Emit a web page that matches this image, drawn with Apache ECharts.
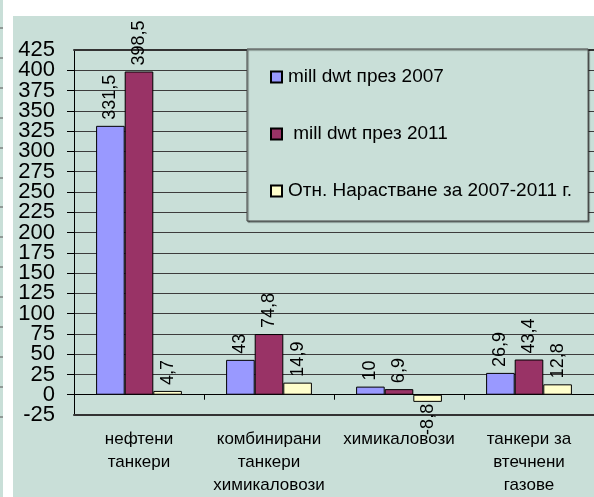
<!DOCTYPE html>
<html>
<head>
<meta charset="utf-8">
<script src="https://cdn.jsdelivr.net/npm/echarts@6/dist/echarts.min.js"></script>
<style>
html,body{margin:0;padding:0;background:#fff;}
#main{width:594px;height:497px;}
</style>
</head>
<body>
<div id="main"></div>
<script>
const categories = ['нефтени\nтанкери', 'комбинирани\nтанкери\nхимикаловози', 'химикаловози', 'танкери за\nвтечнени\nгазове'];
const seriesNames = ['mill dwt през 2007', ' mill dwt през 2011', 'Отн. Нарастване за 2007-2011 г.'];
const values2007 = [331.5, 43, 10, 26.9];
const values2011 = [398.5, 74.8, 6.9, 43.4];
const growth = [4.7, 14.9, -8.8, 12.8];
const yMin = -25, yMax = 425, yStep = 25;

const BG = '#c9dfd8';
const GRIDC = '#3c3c3c';
const FONT = '"Liberation Sans", Arial, sans-serif';
const colors = ['#9999ff', '#993366', '#ffffcc'];
const allValues = [values2007, values2011, growth];

function fmt(v) { return String(v).replace('.', ','); }

const chart = echarts.init(document.getElementById('main'), null, {renderer: 'canvas'});

const stripMarks = [];
for (let i = 0; i < 14; i++) {
  const y = Math.round(28 + i * 29.9);
  stripMarks.push({type: 'line', z: -90, shape: {x1: 0, y1: y, x2: 3, y2: y}, style: {stroke: '#555', lineWidth: 1}, silent: true});
}

const series = allValues.map((vals, si) => ({
  name: seriesNames[si],
  type: 'bar',
  xAxisIndex: 0,
  yAxisIndex: 0,
  barGap: '0%',
  barCategoryGap: '34%',
  itemStyle: {color: colors[si], borderColor: '#000', borderWidth: 1},
  data: vals.map(v => v < 0 ? {
    value: v,
    label: {position: 'bottom', align: 'right', distance: 2}
  } : v),
  label: {
    show: true,
    position: 'top',
    rotate: 90,
    align: 'left',
    verticalAlign: 'middle',
    distance: 6,
    fontSize: 18,
    fontFamily: FONT,
    color: '#000',
    formatter: p => fmt(p.value)
  }
}));

const yLabelBase = {margin: 19, fontSize: 22, fontFamily: FONT, color: '#000', hideOverlap: false};

chart.setOption({
  backgroundColor: '#fff',
  animation: false,
  color: colors,
  graphic: [
    {type: 'rect', z: -100, shape: {x: 13, y: 16, width: 581, height: 481}, style: {fill: BG}, silent: true},
    {type: 'rect', z: -100, shape: {x: 0, y: 0, width: 3, height: 497}, style: {fill: BG}, silent: true}
  ].concat(stripMarks),
  grid: {left: 74, top: 50, width: 530, bottom: 82, containLabel: false},
  legend: {
    orient: 'vertical',
    left: 247,
    top: 49,
    padding: [18, 16, 20, 23],
    itemGap: 37,
    itemWidth: 11,
    itemHeight: 11,
    icon: 'rect',
    backgroundColor: BG,
    borderColor: '#444',
    borderWidth: 1,
    shadowColor: 'rgba(0,0,0,0.55)',
    shadowOffsetX: 1,
    shadowOffsetY: 1,
    shadowBlur: 1,
    textStyle: {fontSize: 19, fontFamily: FONT, color: '#000', lineHeight: 20, padding: [0, 0, 0, 1]},
    data: seriesNames
  },
  xAxis: [
    {
      type: 'category',
      data: categories,
      position: 'bottom',
      axisLine: {show: true, onZero: true, lineStyle: {color: '#000', width: 1}},
      axisTick: {show: true, length: 5, lineStyle: {color: '#000'}},
      axisLabel: {show: false},
      splitLine: {show: false}
    },
    {
      type: 'category',
      data: categories,
      position: 'bottom',
      axisLine: {show: true, onZero: false, lineStyle: {color: '#333', width: 2}},
      axisTick: {show: false},
      axisLabel: {show: true, interval: 0, hideOverlap: false, margin: 13, fontSize: 17, lineHeight: 23, fontFamily: FONT, color: '#000'},
      splitLine: {show: false}
    },
    {
      type: 'category',
      data: categories,
      position: 'top',
      axisLine: {show: true, onZero: false, lineStyle: {color: '#333', width: 2}},
      axisTick: {show: false},
      axisLabel: {show: false},
      splitLine: {show: false}
    }
  ],
  yAxis: [
    {
      type: 'value',
      min: yMin,
      max: yMax,
      interval: yStep,
      axisLine: {show: true, lineStyle: {color: '#000', width: 1}},
      axisTick: {show: true, length: 7, inside: false, lineStyle: {color: '#000'}},
      axisLabel: Object.assign({showMinLabel: false, showMaxLabel: false, formatter: v => fmt(v)}, yLabelBase),
      splitLine: {show: true, lineStyle: {color: GRIDC, width: 1}}
    },
    {
      type: 'value',
      position: 'left',
      offset: 0,
      min: yMin,
      max: yMax,
      interval: yStep,
      axisLine: {show: false},
      axisTick: {show: false},
      axisLabel: Object.assign({showMinLabel: true, showMaxLabel: true, formatter: v => (v === yMin || v === yMax) ? fmt(v) : ''}, yLabelBase),
      splitLine: {show: false}
    }
  ],
  series: series
});
</script>
</body>
</html>
